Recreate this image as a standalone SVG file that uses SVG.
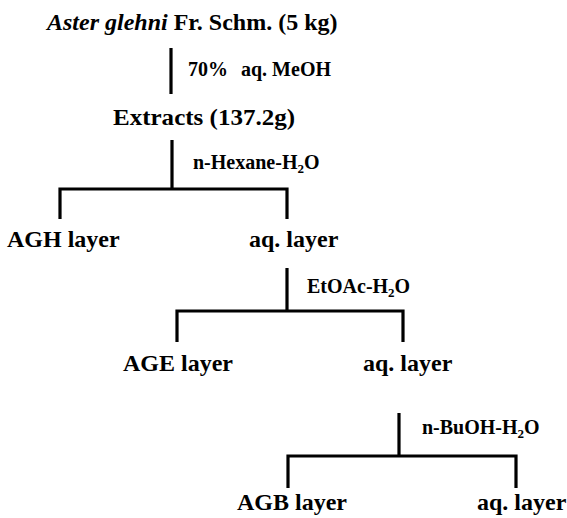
<svg xmlns="http://www.w3.org/2000/svg" width="567" height="518" viewBox="0 0 567 518">
<style>
.big{font-family:"Liberation Serif","Times New Roman",serif;font-weight:bold;font-size:24px;fill:#000}
.sm{font-family:"Liberation Serif","Times New Roman",serif;font-weight:bold;font-size:20px;fill:#000}
.sub{font-size:13px}
.ln{stroke:#000;stroke-width:3.2;fill:none;stroke-linecap:butt}
</style>
<rect width="567" height="518" fill="#fff"/>
<g id="connectors">
<path class="ln" d="M171,48 V94"/>
<path class="ln" d="M172,140 V189 M60,189 H287 M60,187.4 V219 M287,187.4 V219"/>
<path class="ln" d="M287,268 V311 M177,311 H403 M177,309.4 V342 M403,309.4 V342"/>
<path class="ln" d="M399,413 V456 M288,456 H516 M288,454.4 V488 M516,454.4 V488"/>
</g>
<g id="n-aster"><text class="big" x="47" y="30"><tspan font-style="italic">Aster glehni</tspan> Fr. Schm. (5 kg)</text></g>
<g id="l-meoh"><text class="sm" y="76"><tspan x="188">70%</tspan><tspan x="241">aq. MeOH</tspan></text></g>
<g id="n-extracts"><text class="big" x="113" y="125" textLength="182" lengthAdjust="spacingAndGlyphs">Extracts (137.2g)</text></g>
<g id="l-hexane"><text class="sm" x="193" y="169">n-Hexane-H<tspan class="sub" dy="4">2</tspan><tspan dy="-4">O</tspan></text></g>
<g id="n-agh"><text class="big" x="7" y="247">AGH layer</text></g>
<g id="n-aq1"><text class="big" x="249" y="247">aq. layer</text></g>
<g id="l-etoac"><text class="sm" x="307" y="293">EtOAc-H<tspan class="sub" dy="4">2</tspan><tspan dy="-4">O</tspan></text></g>
<g id="n-age"><text class="big" x="123" y="371">AGE layer</text></g>
<g id="n-aq2"><text class="big" x="363" y="371">aq. layer</text></g>
<g id="l-buoh"><text class="sm" x="422" y="434">n-BuOH-H<tspan class="sub" dy="4">2</tspan><tspan dy="-4">O</tspan></text></g>
<g id="n-agb"><text class="big" x="237" y="510">AGB layer</text></g>
<g id="n-aq3"><text class="big" x="477" y="510">aq. layer</text></g>
</svg>
